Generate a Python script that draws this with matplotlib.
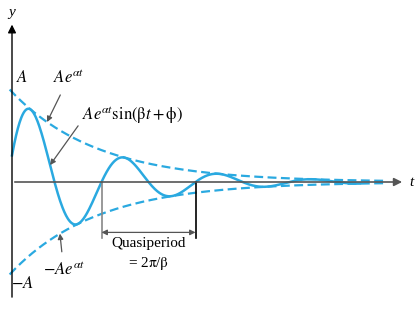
import matplotlib.pyplot as plt
import numpy as np

plt.rcParams['mathtext.fontset'] = 'stix'
plt.rcParams['font.family'] = 'Liberation Serif'

# damped oscillation  y = A e^(alpha t) sin(beta t + phi)
A = 1.0
alpha = -0.545
beta = np.pi
phi = 0.3
t_curve = np.linspace(0, 7.4, 600)
t_env = np.linspace(-0.05, 7.95, 400)
quasi_start = (2 * np.pi - phi) / beta
quasi_end = (4 * np.pi - phi) / beta

blue = '#2aa9e0'
grey = '#555555'

def env(t):
    return A * np.exp(alpha * t)

def curve(t):
    return env(t) * np.sin(beta * t + phi)

fig = plt.figure(figsize=(4.16, 3.22), dpi=100)
ax = fig.add_axes([0, 0, 1, 1])
ax.set_xlim(-12 / 47, 404 / 47)
ax.set_ylim(-140 / 90, 182 / 90)
ax.axis('off')

# axes with arrows
ax.annotate('', xy=(8.36, 0), xytext=(0, 0),
            arrowprops=dict(arrowstyle='-|>', color=grey, lw=1.2, mutation_scale=12))
ax.annotate('', xy=(0, 1.78), xytext=(0, -1.31),
            arrowprops=dict(arrowstyle='-|>', color='black', lw=1.0, mutation_scale=12))
ax.text(0.0, 1.88, 'y', ha='center', va='center', fontsize=11, style='italic')
ax.text(8.45, 0, 't', ha='left', va='center', fontsize=11, style='italic')

# envelopes and curve
ax.plot(t_env, env(t_env), color=blue, lw=1.6, ls=(0, (4, 2)))
ax.plot(t_env, -env(t_env), color=blue, lw=1.6, ls=(0, (4, 2)))
ax.plot(t_curve, curve(t_curve), color=blue, lw=1.8)

# quasiperiod marker
ax.plot([quasi_start, quasi_start], [0, -0.62], color='#888888', lw=1.2)
ax.plot([quasi_end, quasi_end], [0, -0.62], color='black', lw=1.2)
ax.annotate('', xy=(quasi_start, -0.56), xytext=(quasi_end, -0.56),
            arrowprops=dict(arrowstyle='<|-|>', color=grey, lw=0.9, mutation_scale=8,
                            shrinkA=0, shrinkB=0))
qm = (quasi_start + quasi_end) / 2
ax.text(qm, -0.68, 'Quasiperiod', ha='center', va='center', fontsize=11)
ax.text(qm, -0.9, r'= 2$\mathrm{\pi}$/$\mathrm{\beta}$', ha='center', va='center', fontsize=11)

# labels
ax.text(0.09, 1.15, r'$A$', ha='left', va='center', fontsize=12)
ax.text(-0.02, -1.13, r'$-A$', ha='left', va='center', fontsize=12)
ax.annotate(r'$Ae^{\alpha t}$', xy=(0.745, env(0.745)), xytext=(1.2, 1.15),
            ha='center', va='center', fontsize=12,
            arrowprops=dict(arrowstyle='-|>', color=grey, lw=0.9, mutation_scale=8,
                            shrinkA=4, shrinkB=0))
ax.annotate(r'$Ae^{\alpha t}\mathrm{sin}(\mathrm{\beta}t + \mathrm{\phi})$', xy=(0.81, curve(0.81)),
            xytext=(1.5, 0.74), ha='left', va='center', fontsize=12,
            arrowprops=dict(arrowstyle='-|>', color=grey, lw=0.9, mutation_scale=8,
                            shrinkA=2, shrinkB=0, relpos=(0, 0.3)))
ax.annotate(r'$-Ae^{\alpha t}$', xy=(1.02, -env(1.02)), xytext=(1.1, -0.98),
            ha='center', va='center', fontsize=12,
            arrowprops=dict(arrowstyle='-|>', color=grey, lw=0.9, mutation_scale=8,
                            shrinkA=5, shrinkB=0))

fig.savefig('out.png', dpi=100)
